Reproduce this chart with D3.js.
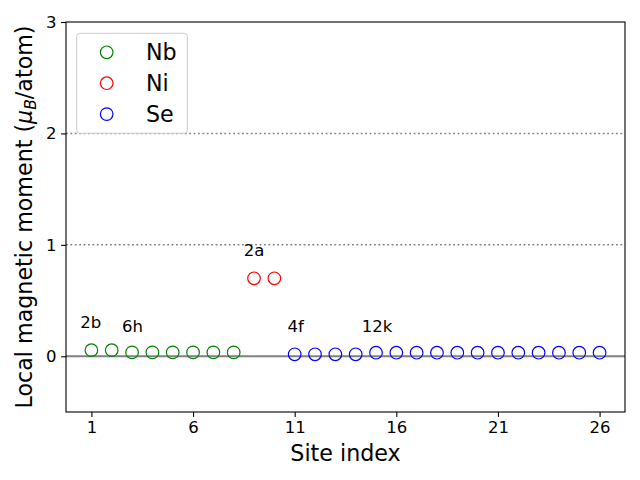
<!DOCTYPE html>
<html><head><meta charset="utf-8">
<script src="https://cdn.jsdelivr.net/npm/d3@7"></script>
<style>body{margin:0;background:#fff}svg{display:block;font-family:"DejaVu Sans",sans-serif}</style>
</head><body>
<script>
const nbSites = [1,2,3,4,5,6,7,8];
const nbMoments = [0.055,0.055,0.035,0.035,0.035,0.035,0.035,0.035];
const niSites = [9,10];
const niMoments = [0.70,0.70];
const seSites = [11,12,13,14,15,16,17,18,19,20,21,22,23,24,25,26];
const seMoments = [0.018,0.018,0.018,0.018,0.032,0.032,0.032,0.032,0.032,0.032,0.032,0.032,0.032,0.032,0.032,0.032];
const xTicks = [1,6,11,16,21,26];
const yTicks = [0,1,2,3];
const refLines = [1,2];
const wyckoffLabels = ["2b","6h","2a","4f","12k"];
const wyckoffX = [0.45,2.5,8.5,10.65,14.3];
const wyckoffY = [0.25,0.22,0.9,0.22,0.22];
const seriesNames = ["Nb","Ni","Se"];
const seriesColors = ["green","red","blue"];

const W=640,H=480, L=66, R=625, T=22, B=412;
const svg = d3.select("body").append("svg").attr("width",W).attr("height",H);
const x = d3.scaleLinear().domain([-0.25,27.25]).range([L,R]);
const y = d3.scaleLinear().domain([-0.5,3]).range([B,T]);

// reference lines
svg.selectAll(".ref").data(refLines).enter().append("line")
  .attr("x1",L).attr("x2",R).attr("y1",d=>y(d)).attr("y2",d=>y(d))
  .attr("stroke","#808080").attr("stroke-width",1.5).attr("stroke-dasharray","1.8,2.6");
svg.append("line").attr("x1",L).attr("x2",R).attr("y1",y(0)).attr("y2",y(0))
  .attr("stroke","#808080").attr("stroke-width",2);

const series = [
  {sites:nbSites, vals:nbMoments},
  {sites:niSites, vals:niMoments},
  {sites:seSites, vals:seMoments}
];
series.forEach((s,i)=>{
  svg.append("g").selectAll("circle").data(s.sites).enter().append("circle")
    .attr("cx",d=>x(d)).attr("cy",(d,j)=>y(s.vals[j])).attr("r",6.3)
    .attr("fill","none").attr("stroke",seriesColors[i]).attr("stroke-width",1.2);
});

// annotations
svg.selectAll(".ann").data(wyckoffLabels).enter().append("text")
  .attr("x",(d,i)=>x(wyckoffX[i])).attr("y",(d,i)=>y(wyckoffY[i]))
  .attr("font-size",16.5).attr("fill","#000").text(d=>d);

// axes
const xAxis = d3.axisBottom(x).tickValues(xTicks).tickFormat(d3.format("d")).tickSize(4.9).tickPadding(4);
const gx = svg.append("g").attr("transform",`translate(0,${B})`).call(xAxis);
const yAxis = d3.axisLeft(y).tickValues(yTicks).tickFormat(d3.format("d")).tickSize(4.9).tickPadding(4.5);
const gy = svg.append("g").attr("transform",`translate(${L},0)`).call(yAxis);
[gx,gy].forEach(g=>{
  g.select(".domain").remove();
  g.selectAll("line").attr("stroke","#000").attr("stroke-width",1.1);
  g.selectAll("text").attr("font-size",16.5).attr("font-family","DejaVu Sans").attr("fill","#000");
});
svg.append("rect").attr("x",L).attr("y",T).attr("width",R-L).attr("height",B-T)
  .attr("fill","none").attr("stroke","#000").attr("stroke-width",1.1);

// axis labels
svg.append("text").attr("x",(L+R)/2).attr("y",461).attr("text-anchor","middle")
  .attr("font-size",22.2).text("Site index");
const yl = svg.append("text").attr("transform",`translate(32,${(T+B)/2}) rotate(-90)`)
  .attr("text-anchor","middle").attr("font-size",22.2);
yl.append("tspan").text("Local magnetic moment (");
yl.append("tspan").attr("font-style","italic").text("μ");
yl.append("tspan").attr("font-style","italic").attr("font-size",15.5).attr("dy",4).text("B");
yl.append("tspan").attr("dy",-4).text("/atom)");

// legend
const lg = svg.append("g");
lg.append("rect").attr("x",76.7).attr("y",33.3).attr("width",110.6).attr("height",100)
  .attr("rx",3).attr("fill","#fff").attr("fill-opacity",0.8).attr("stroke","#cccccc").attr("stroke-width",1);
seriesNames.forEach((n,i)=>{
  const cy = 52.3 + i*30.9;
  lg.append("circle").attr("cx",106.7).attr("cy",cy).attr("r",6.3)
    .attr("fill","none").attr("stroke",seriesColors[i]).attr("stroke-width",1.2);
  lg.append("text").attr("x",146).attr("y",cy+8).attr("font-size",22.2).text(n);
});
</script>
</body></html>
